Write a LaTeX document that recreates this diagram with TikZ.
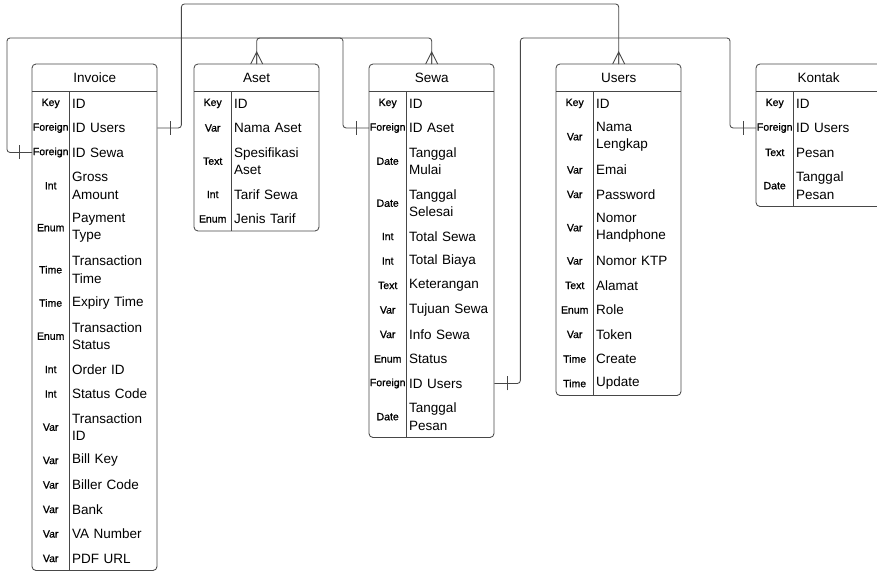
\documentclass[tikz,border=0pt]{standalone}
\usepackage{fontspec}
\setmainfont{Liberation Sans}
\newfontfamily\ertypefont[FakeBold=1]{Liberation Sans}
\usetikzlibrary{calc,decorations.markings}

\tikzset{
  erline/.style={draw=black!72, line width=0.85pt},
  erhead/.style={minimum width=125pt, minimum height=27pt, inner sep=0pt, font=\fontsize{13.5}{16}\selectfont},
  ertype/.style={minimum width=37pt, inner sep=0pt, font=\ertypefont\fontsize{10.5}{12}\selectfont},
  ername/.style={text width=82pt, inner xsep=3pt, inner ysep=0pt, align=left, font=\fontsize{13.5}{17.5}\selectfont},
  relline/.style={draw=black!72, line width=0.85pt, rounded corners=3pt},
  onetick/.style={postaction={decorate, decoration={markings,
      mark=at position 13pt with {\draw[erline] (0,-7pt) -- (0,7pt);}}}},
  crowfoot/.pic={\draw[erline] (0,-12) -- (0,0) (-6,0) -- (0,-12) -- (6,0);}
}

% one entity: id, left x, title, rows type/name/height
\newcommand{\ertable}[4]{%
  \node[erhead, anchor=north west] (#1) at (#2,64) {#3};
  \gdef\erY{91}
  \foreach \ty/\tx/\h [count=\i] in {#4} {
    \node[ertype, minimum height=\h pt, anchor=north west] (#1-t\i) at (#2,\erY) {\ty};
    \node[ername, minimum height=\h pt, anchor=north west] (#1-\i) at (#2+37,\erY) {\tx};
    \pgfmathsetmacro{\yb}{\erY+\h}
    \xdef\erY{\yb}
  }
  \draw[erline, rounded corners=4pt] (#2,64) rectangle (#2+125,\erY);
  \draw[erline] (#2,91) -- (#2+125,91);
  \draw[erline] (#2+37,91) -- (#2+37,\erY);
}

\begin{document}
\begin{tikzpicture}[x=1pt, y=-1pt]
  \useasboundingbox (0,0) rectangle (877,573);
  \clip (0,0) rectangle (877,573);

  % entities
  \ertable{inv}{32}{Invoice}{Key/ID/24.5, Foreign/ID Users/24.5, Foreign/ID Sewa/24.5,
    Int/Gross\\Amount/42, Enum/Payment\\Type/42, Time/Transaction\\Time/42,
    Time/Expiry Time/24.5, Enum/Transaction\\Status/42, Int/Order ID/24.5,
    Int/Status Code/24.5, Var/Transaction\\ID/42, Var/Bill Key/24.5,
    Var/Biller Code/24.5, Var/Bank/24.5, Var/VA Number/24.5, Var/PDF URL/24.5}
  \ertable{ase}{194}{Aset}{Key/ID/24.5, Var/Nama Aset/24.5, Text/Spesifikasi\\Aset/42,
    Int/Tarif Sewa/24.5, Enum/Jenis Tarif/24.5}
  \ertable{sew}{369}{Sewa}{Key/ID/24.5, Foreign/ID Aset/24.5, Date/Tanggal\\Mulai/42,
    Date/Tanggal\\Selesai/42, Int/Total Sewa/24.5, Int/Total Biaya/24.5,
    Text/Keterangan/24.5, Var/Tujuan Sewa/24.5, Var/Info Sewa/24.5,
    Enum/Status/24.5, Foreign/ID Users/24.5, Date/Tanggal\\Pesan/42}
  \ertable{usr}{556}{Users}{Key/ID/24.5, Var/Nama\\Lengkap/42, Var/Emai/24.5,
    Var/Password/24.5, Var/Nomor\\Handphone/42, Var/Nomor KTP/24.5,
    Text/Alamat/24.5, Enum/Role/24.5, Var/Token/24.5, Time/Create/24.5,
    Time/Update/24.5}
  \ertable{kon}{756}{Kontak}{Key/ID/24.5, Foreign/ID Users/24.5, Text/Pesan/24.5,
    Date/Tanggal\\Pesan/42}

  % routing rails
  \coordinate (railA) at (0,4);
  \coordinate (railB) at (0,38);

  % relations
  \draw[relline, onetick] (inv-2.east) -- ++(24,0) |- (railA -| usr.north) -- (usr.north);
  \draw[relline, onetick] (sew-11.east) -- ++(26,0) |- (railB -| usr.north);
  \draw[relline, onetick] (kon-t2.west) -- ++(-26,0) |- (railB -| usr.north);
  \draw[relline, onetick] (inv-t3.west) -- ++(-25,0) |- (railB -| sew.north) -- (sew.north);
  \draw[relline, onetick] (sew-t2.west) -- ++(-26,0) |- (railB -| ase.north) -- (ase.north);

  % many ends
  \pic at (ase.north) {crowfoot};
  \pic at (sew.north) {crowfoot};
  \pic at (usr.north) {crowfoot};
\end{tikzpicture}
\end{document}
